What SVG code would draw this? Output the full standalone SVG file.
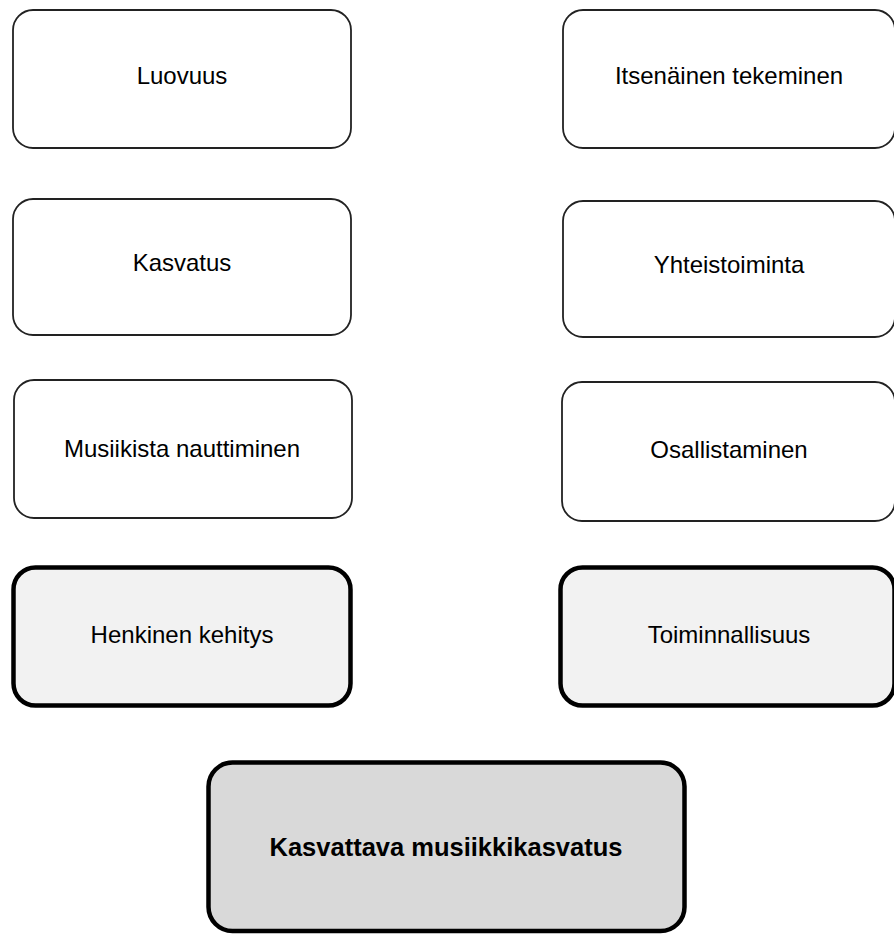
<svg xmlns="http://www.w3.org/2000/svg" width="894" height="935" viewBox="0 0 894 935">
<style>
.box{fill:#ffffff;stroke:#222222;stroke-width:1.8}
.key{fill:#f2f2f2;stroke:#000000;stroke-width:4.5}
.main{fill:#d9d9d9;stroke:#000000;stroke-width:4.5}
.lbl{font-family:"Liberation Sans",Arial,sans-serif;font-size:24px;fill:#000000;text-anchor:middle}
.big{font-family:"Liberation Sans",Arial,sans-serif;font-size:25.5px;font-weight:bold;fill:#000000;text-anchor:middle}
</style>
<rect width="894" height="935" fill="#ffffff"/>
<g id="connectors"></g>
<g id="luovuus">
<rect class="box" x="13" y="10" width="338" height="138" rx="20"/>
<text class="lbl" x="182" y="84">Luovuus</text>
</g>
<g id="itsenainen">
<rect class="box" x="563" y="10" width="332" height="138" rx="20"/>
<text class="lbl" x="729" y="84">Itsenäinen tekeminen</text>
</g>
<g id="kasvatus">
<rect class="box" x="13" y="199" width="338" height="136" rx="20"/>
<text class="lbl" x="182" y="271">Kasvatus</text>
</g>
<g id="yhteistoiminta">
<rect class="box" x="563" y="201" width="332" height="136" rx="20"/>
<text class="lbl" x="729" y="273">Yhteistoiminta</text>
</g>
<g id="musiikista">
<rect class="box" x="14" y="380" width="338" height="138" rx="20"/>
<text class="lbl" x="182" y="457">Musiikista nauttiminen</text>
</g>
<g id="osallistaminen">
<rect class="box" x="562" y="382" width="333" height="139" rx="20"/>
<text class="lbl" x="729" y="458">Osallistaminen</text>
</g>
<g id="henkinen">
<rect class="key" x="13.5" y="567.5" width="337" height="138" rx="22"/>
<text class="lbl" x="182" y="643">Henkinen kehitys</text>
</g>
<g id="toiminnallisuus">
<rect class="key" x="560.5" y="567.5" width="334" height="138" rx="22"/>
<text class="lbl" x="729" y="643">Toiminnallisuus</text>
</g>
<g id="kasvattava">
<rect class="main" x="208.5" y="762.5" width="476" height="168.5" rx="24"/>
<text class="big" x="446" y="856">Kasvattava musiikkikasvatus</text>
</g>
</svg>
